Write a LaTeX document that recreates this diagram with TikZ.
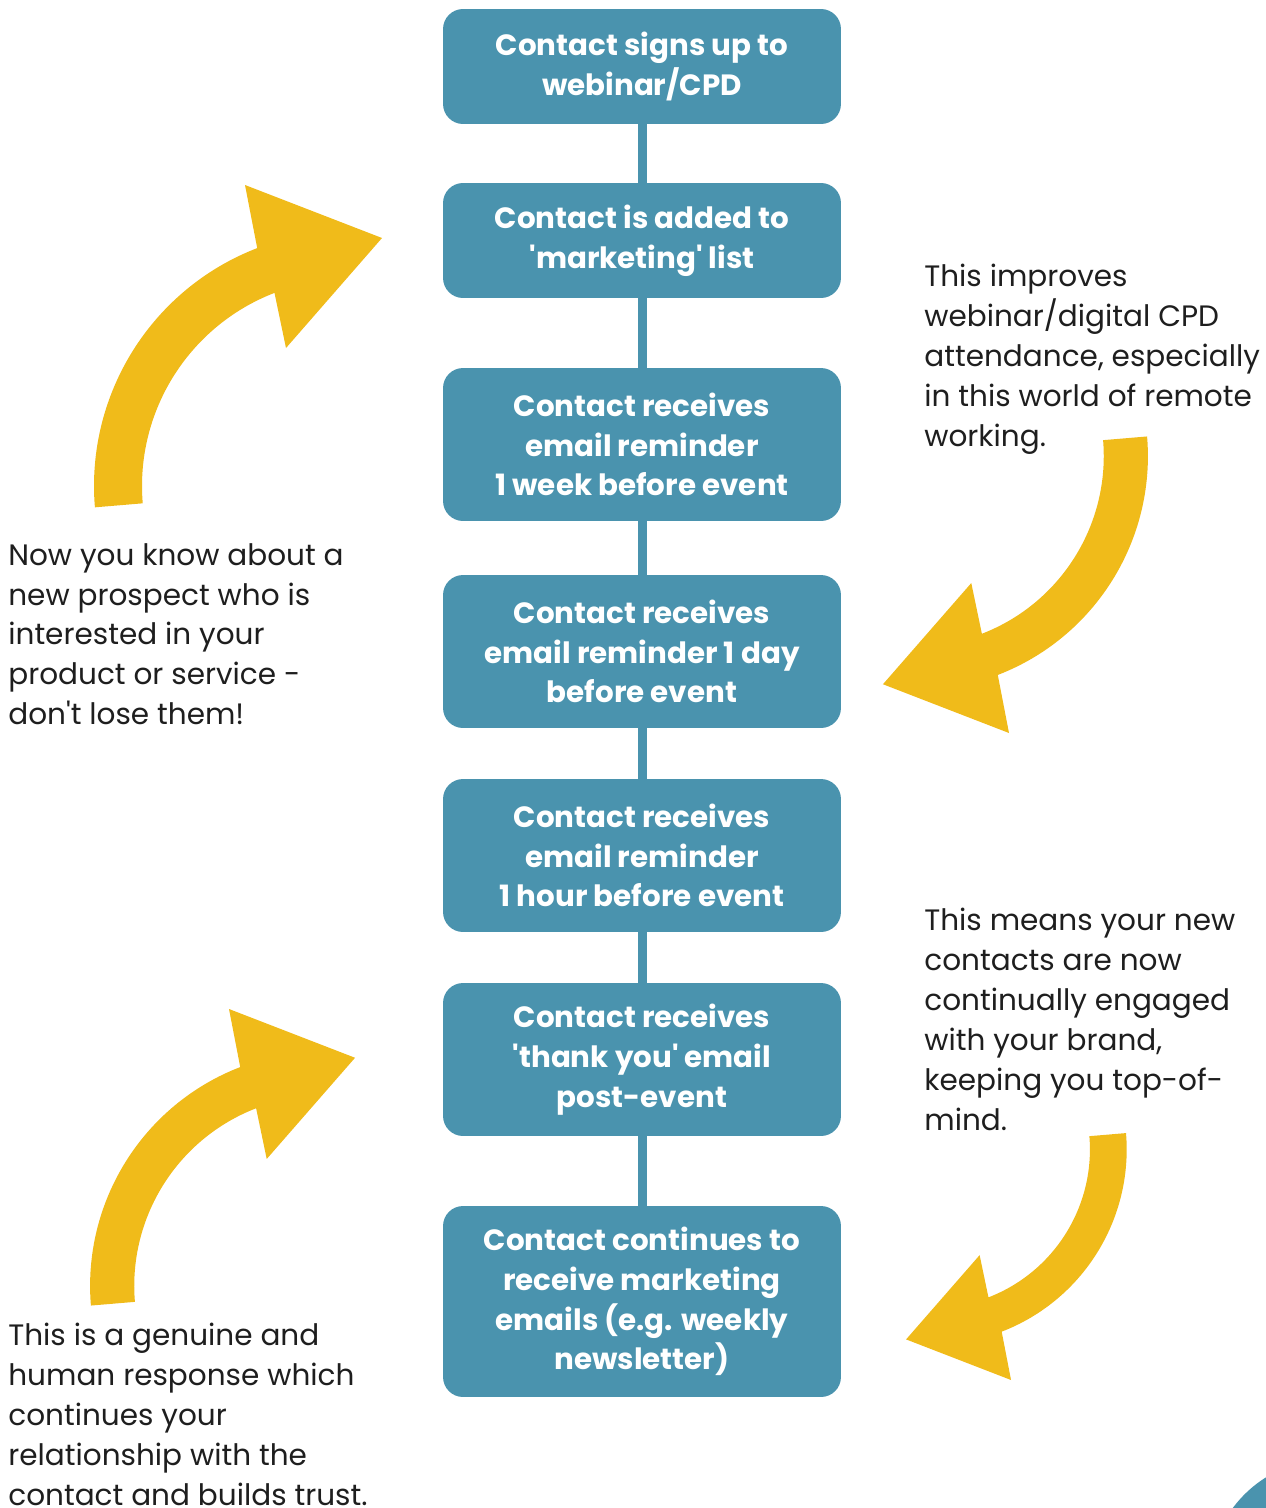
\documentclass[tikz,border=0pt]{standalone}
\usepackage{fontspec}
\setmainfont{Poppins}[Ligatures=TeXOff]
\definecolor{boxblue}{HTML}{4A93AE}
\definecolor{arrowyellow}{HTML}{F0BB1A}
\definecolor{textdark}{HTML}{1E1E1E}
\newcommand\yarrowshape{%
  \fill[arrowyellow] (175.2:255) arc[start angle=175.2, end angle=248.9, radius=255]
    -- (-104,-301) -- (33,-248) -- (-63,-138)
    -- (248.9:207) arc[start angle=248.9, end angle=175.2, radius=207] -- cycle;}
\begin{document}
\begin{tikzpicture}[x=0.02cm,y=-0.02cm,
  box/.style={fill=boxblue, rounded corners=0.4cm, minimum width=7.96cm, text=white,
    font=\fontsize{16.7}{22.68}\selectfont\bfseries, align=center, inner sep=0pt},
  conn/.style={draw=boxblue, line width=0.18cm},
  side/.style={font=\fontsize{16.8}{22.68}\selectfont, text=textdark, align=left,
    inner sep=0pt, anchor=north west}]
\useasboundingbox (0,0) rectangle (1266,1508);
\clip (0,0) rectangle (1266,1508);
% boxes
\node[box, minimum height=2.30cm] (b1) at (642,66.5) {Contact signs up to\\webinar/CPD};
\node[box, minimum height=2.30cm] (b2) at (642,240.5) {Contact is added to\\'marketing' list};
\node[box, minimum height=3.06cm] (b3) at (642,444.5) {Contact receives\\email reminder\\1 week before event};
\node[box, minimum height=3.06cm] (b4) at (642,651.5) {Contact receives\\email reminder 1 day\\before event};
\node[box, minimum height=3.06cm] (b5) at (642,855.5) {Contact receives\\email reminder\\1 hour before event};
\node[box, minimum height=3.06cm] (b6) at (642,1059.5) {Contact receives\\'thank you' email\\post-event};
\node[box, minimum height=3.82cm] (b7) at (642,1301.5) {Contact continues to\\receive marketing\\emails (e.g. weekly\\newsletter)};
% connectors
\draw[conn] (b1) -- (b2);
\draw[conn] (b2) -- (b3);
\draw[conn] (b3) -- (b4);
\draw[conn] (b4) -- (b5);
\draw[conn] (b5) -- (b6);
\draw[conn] (b6) -- (b7);
% side texts
\node[side] (t1) at (924,264) {This improves\\webinar/digital CPD\\attendance, especially\\in this world of remote\\working.};
\node[side] (t2) at (924,908) {This means your new\\contacts are now\\continually engaged\\with your brand,\\keeping you top-of-\\mind.};
\node[side] (t3) at (8,543) {Now you know about a\\new prospect who is\\interested in your\\product or service -\\don't lose them!};
\node[side] (t4) at (8,1323) {This is a genuine and\\human response which\\continues your\\relationship with the\\contact and builds trust.};
% yellow arrows
\begin{scope}[shift={(349,486)}]\yarrowshape\end{scope}
\begin{scope}[shift={(3.6,838.8)}, scale=0.92]\begin{scope}[shift={(349,486)}]\yarrowshape\end{scope}\end{scope}
\begin{scope}[shift={(1234.4,903.2)}, scale=-0.92]\begin{scope}[shift={(349,486)}]\yarrowshape\end{scope}\end{scope}
\begin{scope}[shift={(1198.7,1521.7)}, scale=-0.766]\begin{scope}[shift={(349,486)}]\yarrowshape\end{scope}\end{scope}
% corner disc
\fill[boxblue] (1330,1580) circle[radius=121];
\end{tikzpicture}
\end{document}
